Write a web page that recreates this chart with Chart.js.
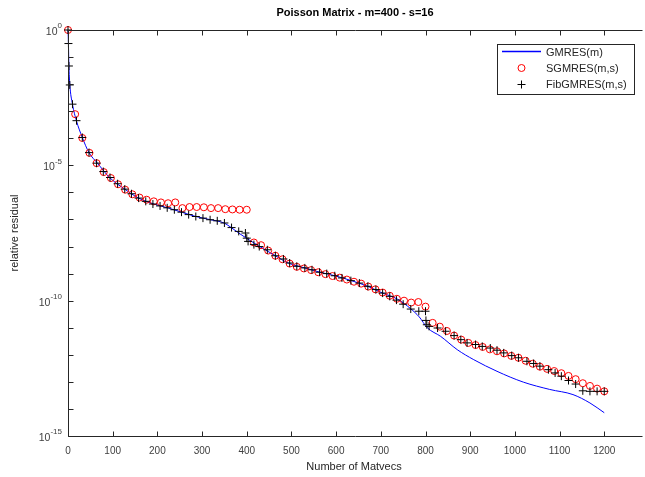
<!DOCTYPE html>
<html>
<head>
<meta charset="utf-8">
<script src="https://cdn.jsdelivr.net/npm/chart.js@4.4.1/dist/chart.umd.min.js"></script>
<style>
  html, body { margin: 0; padding: 0; background: #fff; }
  #wrap { width: 645px; height: 477px; }
</style>
</head>
<body>
<div id="wrap"><canvas id="chart" width="645" height="477"></canvas></div>
<script>
// Données (résidus en log10)
const gmresMv = [0, 1, 2, 4, 10, 19, 32, 47, 66, 93, 127, 158, 192, 225, 256, 286, 319, 349, 367, 382,
  400, 427, 464, 493, 530, 564, 597, 634, 671, 704, 738, 767, 786, 804, 834, 871, 908, 960, 1019, 1078,
  1130, 1168, 1200];
const gmresLog = [0, -0.5, -1.3, -2.0, -2.74, -3.36, -3.97, -4.53, -4.92, -5.45, -5.88, -6.21, -6.43, -6.58, -6.74, -6.89, -7.01, -7.13, -7.32, -7.5,
  -7.7, -7.98, -8.34, -8.61, -8.79, -8.95, -9.08, -9.26, -9.47, -9.72, -9.95, -10.3, -10.6, -11.0, -11.32, -11.81, -12.18, -12.61, -13.01, -13.28,
  -13.47, -13.78, -14.14];

const sgmresMv = [0, 16, 32, 48, 64, 80, 96, 112, 128, 144, 160, 176, 192, 208, 224, 240, 256, 272, 288, 304,
  320, 336, 352, 368, 384, 400, 416, 432, 448, 464, 480, 496, 512, 528, 544, 560, 576, 592, 608, 624,
  640, 656, 672, 688, 704, 720, 736, 752, 768, 784, 800, 816, 832, 848, 864, 880, 896, 912, 928, 944,
  960, 976, 992, 1008, 1024, 1040, 1056, 1072, 1088, 1104, 1120, 1136, 1152, 1168, 1184, 1200];
const sgmresLog = [0, -3.11, -3.99, -4.54, -4.92, -5.25, -5.47, -5.70, -5.90, -6.07, -6.19, -6.27, -6.33, -6.37, -6.40, -6.37, -6.58, -6.54, -6.54, -6.55,
  -6.58, -6.58, -6.62, -6.63, -6.64, -6.64, -7.85, -7.95, -8.15, -8.34, -8.47, -8.63, -8.75, -8.81, -8.87, -8.95, -9.02, -9.09, -9.15, -9.22,
  -9.30, -9.37, -9.48, -9.58, -9.70, -9.82, -9.93, -10.00, -10.07, -10.05, -10.22, -10.82, -10.96, -11.12, -11.29, -11.44, -11.56, -11.64, -11.71, -11.80,
  -11.87, -11.95, -12.04, -12.11, -12.22, -12.33, -12.44, -12.52, -12.60, -12.68, -12.78, -12.90, -13.05, -13.15, -13.25, -13.35];

const fibMv = [0, 1, 2, 4, 10, 19, 32, 47, 64, 79, 94, 111, 127, 142, 158, 174, 190, 206, 222, 238,
  254, 270, 286, 302, 318, 334, 350, 366, 382, 397, 400, 403, 416, 428, 446, 464, 482, 496, 512, 530,
  546, 563, 579, 597, 613, 633, 652, 671, 689, 704, 720, 735, 750, 767, 785, 800, 801, 803, 808, 827,
  845, 864, 879, 893, 912, 927, 945, 960, 975, 993, 1008, 1027, 1042, 1056, 1075, 1090, 1104, 1120, 1136, 1152,
  1168, 1184, 1200];
const fibLog = [0, -0.5, -1.33, -2.03, -2.74, -3.35, -3.97, -4.53, -4.92, -5.23, -5.45, -5.68, -5.88, -6.05, -6.21, -6.33, -6.43, -6.50, -6.57, -6.64,
  -6.73, -6.82, -6.89, -6.95, -7.01, -7.05, -7.13, -7.30, -7.44, -7.50, -7.69, -7.81, -7.93, -8.00, -8.12, -8.34, -8.46, -8.61, -8.73, -8.79,
  -8.86, -8.95, -9.00, -9.08, -9.16, -9.26, -9.35, -9.47, -9.59, -9.72, -9.84, -9.98, -10.13, -10.31, -10.39, -10.39, -10.73, -10.89, -10.95, -11.01,
  -11.13, -11.29, -11.44, -11.56, -11.62, -11.69, -11.75, -11.83, -11.93, -12.03, -12.11, -12.24, -12.32, -12.42, -12.55, -12.67, -12.79, -12.95, -13.08, -13.33,
  -13.35, -13.35, -13.35];

// Graduations
const xTicks = [0, 100, 200, 300, 400, 500, 600, 700, 800, 900, 1000, 1100, 1200];
const yLabelExps = [0, -5, -10, -15];
const seriesNames = ['GMRES(m)', 'SGMRES(m,s)', 'FibGMRES(m,s)'];

const AXIS_COLOR = '#262626';
const FONT = '"Liberation Sans", Arial, sans-serif';

function toPoints(xs, logs) {
    return xs.map((x, i) => ({ x: x, y: Math.pow(10, logs[i]) }));
}

// Cadre, graduations intérieures, étiquettes 10^n, titre et légende (style MATLAB)
const matlabPlugin = {
    id: 'matlabAxes',
    afterDraw(chart) {
        const ctx = chart.ctx;
        const area = chart.chartArea;
        const xs = chart.scales.x;
        const ys = chart.scales.y;
        const L = Math.round(area.left) + 0.5;
        const R = Math.round(area.right) + 0.5;
        const T = Math.round(area.top) + 0.5;
        const B = Math.round(area.bottom) + 0.5;
        ctx.save();
        ctx.strokeStyle = AXIS_COLOR;
        ctx.lineWidth = 1;
        ctx.beginPath();
        ctx.moveTo(R + 2, T); ctx.lineTo(L, T); ctx.lineTo(L, B); ctx.lineTo(R + 2, B);
        // graduations x (haut et bas)
        xTicks.forEach(v => {
            const px = Math.round(xs.getPixelForValue(v)) + 0.5;
            ctx.moveTo(px, B); ctx.lineTo(px, B - 5);
            ctx.moveTo(px, T); ctx.lineTo(px, T + 5);
        });
        // graduations y à chaque décade
        for (let e = 0; e >= -15; e--) {
            const py = Math.round(ys.getPixelForValue(Math.pow(10, e))) + 0.5;
            ctx.moveTo(L, py); ctx.lineTo(L + 5, py);
        }
        ctx.stroke();

        // étiquettes y avec exposant
        ctx.fillStyle = '#404040';
        ctx.textBaseline = 'middle';
        yLabelExps.forEach(e => {
            const py = ys.getPixelForValue(Math.pow(10, e));
            const exp = String(e);
            ctx.font = '8px ' + FONT;
            const we = ctx.measureText(exp).width;
            ctx.textAlign = 'right';
            ctx.fillText(exp, 62, py - 4);
            ctx.font = '10.5px ' + FONT;
            ctx.fillText('10', 62 - we, py + 2);
        });

        // titre
        ctx.fillStyle = '#000';
        ctx.font = 'bold 11px ' + FONT;
        ctx.textAlign = 'center';
        ctx.fillText('Poisson Matrix - m=400 - s=16', (area.left + area.right) / 2 + 1, 13);

        // légende
        const bx = 497.5, by = 44.5, bw = 137, bh = 50;
        ctx.fillStyle = '#fff';
        ctx.fillRect(bx, by, bw, bh);
        ctx.strokeStyle = AXIS_COLOR;
        ctx.strokeRect(bx, by, bw, bh);
        const rows = [52, 68, 84];
        ctx.font = '11px ' + FONT;
        ctx.textAlign = 'left';
        ctx.fillStyle = AXIS_COLOR;
        rows.forEach((ry, i) => ctx.fillText(seriesNames[i], 546, ry + 0.5));
        ctx.strokeStyle = '#0000ff';
        ctx.lineWidth = 1.3;
        ctx.beginPath(); ctx.moveTo(502, rows[0] - 0.5); ctx.lineTo(541, rows[0] - 0.5); ctx.stroke();
        ctx.lineWidth = 1;
        ctx.strokeStyle = '#ff0000';
        ctx.beginPath(); ctx.arc(521.5, rows[1], 3.5, 0, Math.PI * 2); ctx.stroke();
        ctx.strokeStyle = '#000';
        ctx.beginPath();
        ctx.moveTo(517.5, rows[2] + 0.5); ctx.lineTo(525.5, rows[2] + 0.5);
        ctx.moveTo(521.5, rows[2] - 3.5); ctx.lineTo(521.5, rows[2] + 4.5);
        ctx.stroke();
        ctx.restore();
    }
};

const ctx = document.getElementById('chart').getContext('2d');
new Chart(ctx, {
    type: 'scatter',
    data: {
        datasets: [{
            label: seriesNames[0],
            data: toPoints(gmresMv, gmresLog),
            showLine: true,
            borderColor: '#0000ff',
            borderWidth: 1,
            pointRadius: 0,
            cubicInterpolationMode: 'monotone',
            clip: false,
            order: 3
        }, {
            label: seriesNames[1],
            data: toPoints(sgmresMv, sgmresLog),
            showLine: false,
            pointStyle: 'circle',
            pointRadius: 3.5,
            borderColor: '#ff0000',
            backgroundColor: 'rgba(0,0,0,0)',
            pointBorderWidth: 1,
            clip: false,
            order: 2
        }, {
            label: seriesNames[2],
            data: toPoints(fibMv, fibLog),
            showLine: false,
            pointStyle: 'cross',
            pointRadius: 4,
            borderColor: '#000',
            pointBorderWidth: 1,
            clip: false,
            order: 1
        }]
    },
    options: {
        responsive: false,
        animation: false,
        devicePixelRatio: 1,
        layout: { padding: { top: 30, right: 1, left: 0, bottom: 0 } },
        plugins: {
            legend: { display: false },
            title: { display: false },
            tooltip: { enabled: false }
        },
        scales: {
            x: {
                type: 'linear',
                min: 0,
                max: 1280,
                grid: { display: false, drawTicks: false },
                border: { display: false },
                afterBuildTicks: scale => { scale.ticks = xTicks.map(v => ({ value: v })); },
                ticks: {
                    autoSkip: false,
                    maxRotation: 0,
                    padding: 9,
                    color: '#404040',
                    font: { family: FONT, size: 10 },
                    callback: v => String(v)
                },
                title: {
                    display: true,
                    text: 'Number of Matvecs',
                    color: '#262626',
                    font: { family: FONT, size: 11 },
                    padding: { top: 0, bottom: 3 }
                },
                afterFit: scale => { scale.height = 41; }
            },
            y: {
                type: 'logarithmic',
                min: 1e-15,
                max: 1,
                grid: { display: false, drawTicks: false },
                border: { display: false },
                ticks: { display: false },
                title: {
                    display: true,
                    text: 'relative residual',
                    color: '#262626',
                    font: { family: FONT, size: 11 },
                    padding: { top: 8, bottom: 0 }
                },
                afterFit: scale => { scale.width = 68; }
            }
        }
    },
    plugins: [matlabPlugin]
});
</script>
</body>
</html>
